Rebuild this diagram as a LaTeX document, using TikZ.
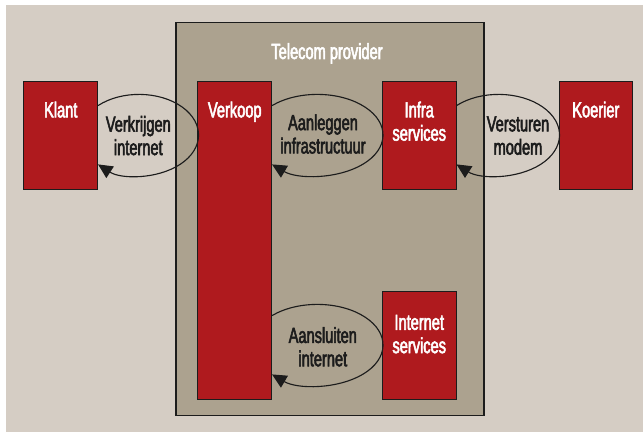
\documentclass[tikz,border=0pt]{standalone}
\usepackage{fontspec}
\setmainfont{Liberation Sans}[FakeStretch=0.67, FakeBold=2.5]
\usepackage{xcolor}
\usetikzlibrary{arrows.meta,positioning,calc}
\definecolor{sand}{RGB}{213,205,196}
\definecolor{taupe}{RGB}{172,162,143}
\definecolor{brick}{RGB}{175,26,30}
\definecolor{ink}{RGB}{28,28,28}

\begin{document}
\begin{tikzpicture}[
  font=\fontsize{15.5}{16.6}\selectfont,
  unit/.style={rectangle, draw=ink, line width=0.7pt, fill=brick,
    minimum width=1.84cm, minimum height=2.7cm, inner sep=0pt},
  unitname/.style={anchor=north, yshift=-0.52cm, inner sep=0pt,
    text=white, align=center},
  act/.style={align=center, text=ink, inner sep=0pt},
  flow/.style={-{Triangle[length=3.6mm, width=3.4mm]}, line width=0.8pt, draw=ink},
]
  \fill[white] (0,0) rectangle (16.075,10.8);
  \fill[sand] (0.15,0) rectangle (16.075,10.675);
  \useasboundingbox (0,0) rectangle (16.075,10.8);

  \node[draw=ink, line width=1pt, fill=taupe, minimum width=7.7cm,
    minimum height=9.825cm] (provider) at (8.25,5.32) {};
  \node[text=white, anchor=base] (title) at (8.175,9.325) {Telecom provider};

  \node[unit, label={[unitname]north:Klant}] (klant) at (1.519,7.425) {};
  \node[unit, minimum height=7.95cm, label={[unitname]north:Verkoop}]
    (verkoop) at (5.869,4.8) {};
  \node[unit, label={[unitname]north:Infra\\services}] (infra) at (10.481,7.425) {};
  \node[unit, label={[unitname]north:Koerier}] (koerier) at (14.896,7.425) {};
  \node[unit, label={[unitname, yshift=-0.08cm]north:Internet\\services}]
    (internet) at (10.481,2.175) {};

  \node[act] (verkrijg) at (3.4575,7.41)  {Verkrijgen\\internet};
  \node[act] (aanleg)   at (8.075,7.45)   {Aanleggen\\infrastructuur};
  \node[act] (verstuur) at (12.95,7.41)   {Versturen\\modem};
  \node[act] (aansluit) at (8.07,2.13)    {Aansluiten\\internet};

  \draw[flow] ($(klant.east)+(0,0.735)$)
    arc[start angle=133.6, end angle=-133.6, x radius=1.487cm, y radius=1.015cm];
  \draw[flow] ($(verkoop.east |- infra.west)+(0,0.735)$)
    arc[start angle=133.6, end angle=-133.6, x radius=1.642cm, y radius=1.015cm];
  \draw[flow] ($(infra.east)+(0,0.735)$)
    arc[start angle=133.6, end angle=-133.6, x radius=1.524cm, y radius=1.015cm];
  \draw[flow] ($(verkoop.east |- internet.west)+(0,0.735)$)
    arc[start angle=133.6, end angle=-133.6, x radius=1.642cm, y radius=1.015cm];
\end{tikzpicture}
\end{document}
